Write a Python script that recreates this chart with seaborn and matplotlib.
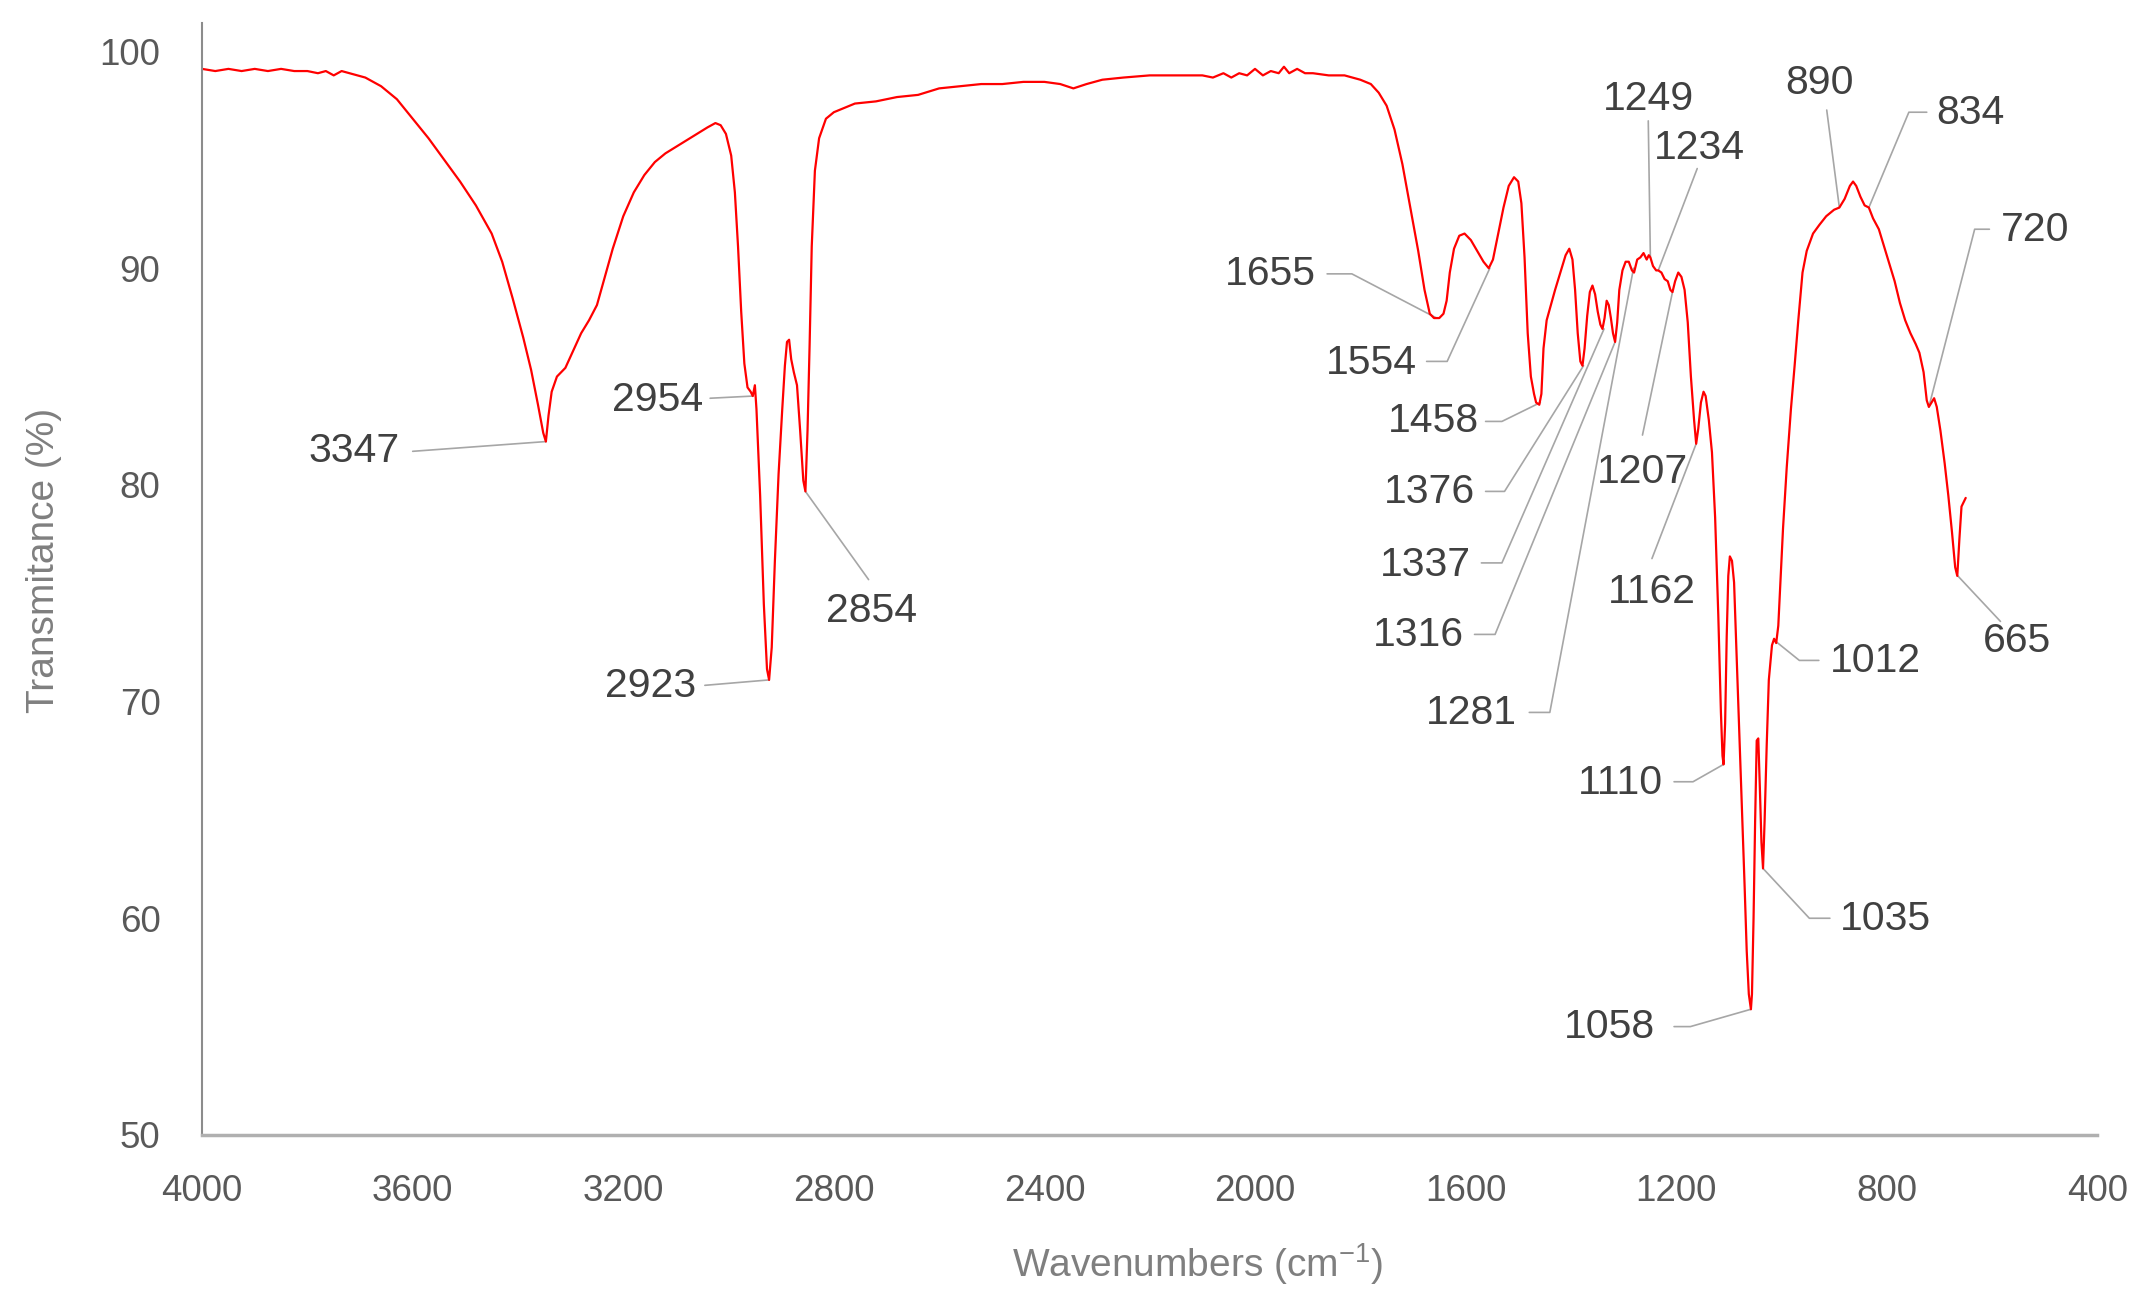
import matplotlib
matplotlib.use("Agg")
import matplotlib.pyplot as plt
import seaborn as sns
import pandas as pd

# ---- spectrum (wavenumber cm-1, transmittance %) ----
# each row of wavenumber matches the same row of transmittance
wavenumber = [
    4000, 3975, 3950, 3925, 3900, 3875, 3850, 3825, 3800, 3780, 3765, 3750, 3735, 3720,
    3690, 3660, 3630, 3600, 3570, 3540, 3510, 3480, 3450, 3430, 3410, 3390,
    3375, 3362, 3352, 3347, 3342, 3336, 3326, 3310, 3295, 3280, 3265, 3250,
    3235, 3220, 3200, 3180, 3160, 3140, 3120, 3100, 3080, 3060, 3040, 3025,
    3015, 3005, 2995, 2988, 2982, 2976, 2970, 2964, 2958, 2954, 2950, 2947,
    2940, 2933, 2927, 2923, 2918, 2912, 2905, 2898, 2893, 2889, 2885, 2881,
    2876, 2870, 2864, 2858, 2854, 2850, 2846, 2842, 2836, 2828, 2815, 2800,
    2780, 2760, 2720, 2680, 2640, 2600, 2560, 2520, 2480, 2440, 2400, 2370,
    2345, 2320, 2290, 2250, 2200, 2150,
    2100, 2080, 2060, 2045, 2030, 2015, 2000, 1985, 1970, 1955, 1945, 1935, 1920, 1905, 1890,
    1860, 1830, 1800, 1780, 1765, 1750, 1735, 1720, 1705, 1690, 1678, 1668,
    1660, 1650, 1642, 1636, 1630, 1622, 1612, 1602, 1590, 1578, 1566, 1556,
    1548, 1538, 1528, 1518, 1508, 1500, 1494, 1488, 1482, 1476, 1470, 1466,
    1460, 1456, 1452, 1446, 1438, 1430, 1420, 1410, 1403, 1397, 1392, 1387,
    1382, 1378, 1374, 1369, 1364, 1359, 1354, 1349, 1344, 1340, 1336, 1332,
    1328, 1324, 1320, 1316, 1312, 1308, 1302, 1296, 1290, 1284, 1280, 1274,
    1268, 1262, 1256, 1252, 1249, 1244, 1238, 1234, 1228, 1222, 1216, 1211,
    1207, 1202, 1196, 1190, 1184, 1178, 1172, 1166, 1162, 1158, 1153, 1148,
    1144, 1138, 1132, 1126, 1120, 1115, 1112, 1110, 1107, 1104, 1101, 1098,
    1094, 1090, 1085, 1080, 1075, 1070, 1066, 1062, 1058, 1056, 1053, 1050,
    1047, 1044, 1041, 1038, 1035, 1032, 1028, 1024, 1018, 1014, 1010, 1006,
    1002, 997, 990, 982, 975, 968, 960, 952, 940, 928, 915, 900,
    890, 880, 870, 864, 858, 850, 842, 834, 826, 815, 805, 795,
    785, 775, 765, 755, 745, 738, 730, 724, 720, 715, 710, 705,
    698, 690, 683, 676, 670, 666, 662, 658, 654, 650,
]
transmittance = [
    99.2, 99.1, 99.2, 99.1, 99.2, 99.1, 99.2, 99.1, 99.1, 99.0, 99.1, 98.9, 99.1, 99.0,
    98.8, 98.4, 97.8, 96.9, 96.0, 95.0, 94.0, 92.9, 91.6, 90.3, 88.6, 86.8,
    85.3, 83.7, 82.4, 82.0, 83.2, 84.3, 85.0, 85.4, 86.2, 87.0, 87.6, 88.3,
    89.6, 90.9, 92.4, 93.5, 94.3, 94.9, 95.3, 95.6, 95.9, 96.2, 96.5, 96.7,
    96.6, 96.2, 95.2, 93.5, 91.0, 88.0, 85.6, 84.5, 84.3, 84.1, 84.6, 83.5,
    79.5, 74.5, 71.5, 71.0, 72.5, 76.5, 80.5, 83.5, 85.5, 86.6, 86.7, 85.8,
    85.2, 84.6, 82.5, 80.2, 79.7, 82.5, 86.5, 91.0, 94.5, 96.0, 96.9, 97.2,
    97.4, 97.6, 97.7, 97.9, 98.0, 98.3, 98.4, 98.5, 98.5, 98.6, 98.6, 98.5,
    98.3, 98.5, 98.7, 98.8, 98.9, 98.9,
    98.9, 98.8, 99.0, 98.8, 99.0, 98.9, 99.2, 98.9, 99.1, 99.0, 99.3, 99.0, 99.2, 99.0, 99.0,
    98.9, 98.9, 98.7, 98.5, 98.1, 97.5, 96.4, 94.8, 92.8, 90.8, 89.0, 87.9,
    87.7, 87.7, 87.9, 88.5, 89.8, 90.9, 91.5, 91.6, 91.3, 90.8, 90.3, 90.0,
    90.4, 91.6, 92.8, 93.8, 94.2, 94.0, 93.0, 90.5, 87.0, 85.0, 84.2, 83.8,
    83.7, 84.2, 86.3, 87.6, 88.3, 89.0, 89.8, 90.6, 90.9, 90.4, 89.0, 87.0,
    85.7, 85.5, 86.3, 87.8, 88.9, 89.2, 88.8, 88.0, 87.4, 87.2, 87.7, 88.5,
    88.3, 87.7, 87.0, 86.6, 87.5, 89.0, 89.9, 90.3, 90.3, 89.9, 89.8, 90.4,
    90.5, 90.7, 90.4, 90.6, 90.5, 90.1, 89.9, 89.9, 89.8, 89.5, 89.4, 89.0,
    88.9, 89.4, 89.8, 89.6, 89.0, 87.5, 85.0, 83.0, 81.9, 82.6, 83.8, 84.3,
    84.1, 83.0, 81.5, 78.5, 74.0, 69.5, 67.5, 67.1, 69.0, 73.0, 75.8, 76.7,
    76.5, 75.5, 72.0, 68.5, 65.0, 61.5, 58.5, 56.5, 55.8, 56.5, 60.0, 64.5,
    68.2, 68.3, 66.0, 63.5, 62.3, 64.5, 68.0, 71.0, 72.6, 72.9, 72.7, 73.5,
    75.5, 78.0, 80.8, 83.5, 85.5, 87.6, 89.8, 90.8, 91.6, 92.0, 92.4, 92.7,
    92.8, 93.2, 93.8, 94.0, 93.8, 93.3, 92.9, 92.8, 92.3, 91.8, 91.0, 90.2,
    89.4, 88.4, 87.6, 87.0, 86.5, 86.1, 85.2, 83.9, 83.6, 83.8, 84.0, 83.6,
    82.5, 81.0, 79.5, 77.8, 76.2, 75.8, 77.5, 79.0, 79.2, 79.4,
]

# labelled bands and the transmittance where each leader line meets the curve
peak_wn = [3347, 2954, 2923, 2854, 1655, 1554, 1458, 1376, 1337, 1316, 1281,
           1249, 1234, 1207, 1162, 1110, 1058, 1035, 1012, 890, 834, 720, 665]
peak_T = [82.0, 84.1, 71.0, 79.7, 87.7, 90.0, 83.8, 85.5, 87.2, 86.6, 90.0,
          90.5, 89.9, 88.9, 81.9, 67.1, 55.8, 62.3, 72.8, 92.8, 92.8, 83.6, 75.8]

x_ticks = [4000, 3600, 3200, 2800, 2400, 2000, 1600, 1200, 800, 400]
y_ticks = [50, 60, 70, 80, 90, 100]

df = pd.DataFrame({"wn": wavenumber, "T": transmittance})

sns.set_style("white")
plt.rcParams["font.family"] = ["Liberation Sans", "DejaVu Sans"]
plt.rcParams["mathtext.default"] = "regular"

fig = plt.figure(figsize=(21.41, 12.99), dpi=100)
ax = fig.add_axes([0.0944, 0.1263, 0.8852, 0.8557])

sns.lineplot(data=df, x="wn", y="T", sort=False, estimator=None,
             color="#ff0000", linewidth=1.6, ax=ax)

ax.set_xlim(4000, 400)
ax.set_ylim(50, 101.3)
ax.set_xticks(x_ticks)
ax.set_yticks(y_ticks)
ax.tick_params(axis="both", length=0, labelsize=26.5, colors="#595959")
ax.tick_params(axis="x", pad=28)
ax.tick_params(axis="y", pad=30)

for side in ["top", "right"]:
    ax.spines[side].set_visible(False)
ax.spines["left"].set_color("#8c8c8c")
ax.spines["left"].set_linewidth(1.5)
ax.spines["bottom"].set_color("#b0b0b0")
ax.spines["bottom"].set_linewidth(2.5)

ax.set_xlabel("Wavenumbers (cm$^{-1}$)", fontsize=28, color="#7f7f7f")
ax.set_ylabel("Transmitance (%)", fontsize=28, color="#7f7f7f")
ax.xaxis.set_label_coords(0.525, -0.096)
ax.yaxis.set_label_coords(-0.074, 0.517)

# label placement: text position, alignment, leader points before the peak
layout = [
    (3624, 81.55, "right", [(3600, 81.55)]),
    (3048, 83.94, "right", [(3035, 84.0)]),
    (3061, 70.72, "right", [(3045, 70.75)]),
    (2729, 74.18, "center", [(2734, 75.63)]),
    (1884, 89.74, "right", [(1863, 89.74), (1816, 89.74)]),
    (1692, 85.64, "right", [(1674, 85.7), (1635, 85.7)]),
    (1575, 82.93, "right", [(1562, 82.93), (1531, 82.93)]),
    (1583, 79.66, "right", [(1562, 79.7), (1526, 79.7)]),
    (1590, 76.32, "right", [(1570, 76.4), (1531, 76.4)]),
    (1603, 73.05, "right", [(1583, 73.1), (1544, 73.1)]),
    (1502, 69.46, "right", [(1479, 69.5), (1440, 69.5)]),
    (1253, 97.8, "center", [(1253, 96.8)]),
    (1155, 95.53, "center", [(1160, 94.6)]),
    (1264, 80.6, "center", [(1264, 82.3)]),
    (1246, 75.06, "center", [(1246, 76.6)]),
    (1225, 66.25, "right", [(1204, 66.3), (1168, 66.3)]),
    (1240, 54.97, "right", [(1204, 55.0), (1173, 55.0)]),
    (889, 59.95, "left", [(908, 60.0), (947, 60.0)]),
    (908, 71.85, "left", [(929, 71.9), (966, 71.9)]),
    (927, 98.55, "center", [(914, 97.3)]),
    (706, 97.17, "left", [(724, 97.2), (758, 97.2)]),
    (584, 91.75, "left", [(605, 91.8), (633, 91.8)]),
    (553, 72.8, "center", [(584, 73.7)]),
]

for wn, t, (tx, ty, ha, lead) in zip(peak_wn, peak_T, layout):
    pts = lead + [(wn, t)]
    ax.plot([p[0] for p in pts], [p[1] for p in pts], color="#a6a6a6",
            linewidth=1.2, zorder=1)
    ax.text(tx, ty, str(wn), ha=ha, va="center", fontsize=29.5, color="#404040")

fig.savefig("out.png", dpi=100)
